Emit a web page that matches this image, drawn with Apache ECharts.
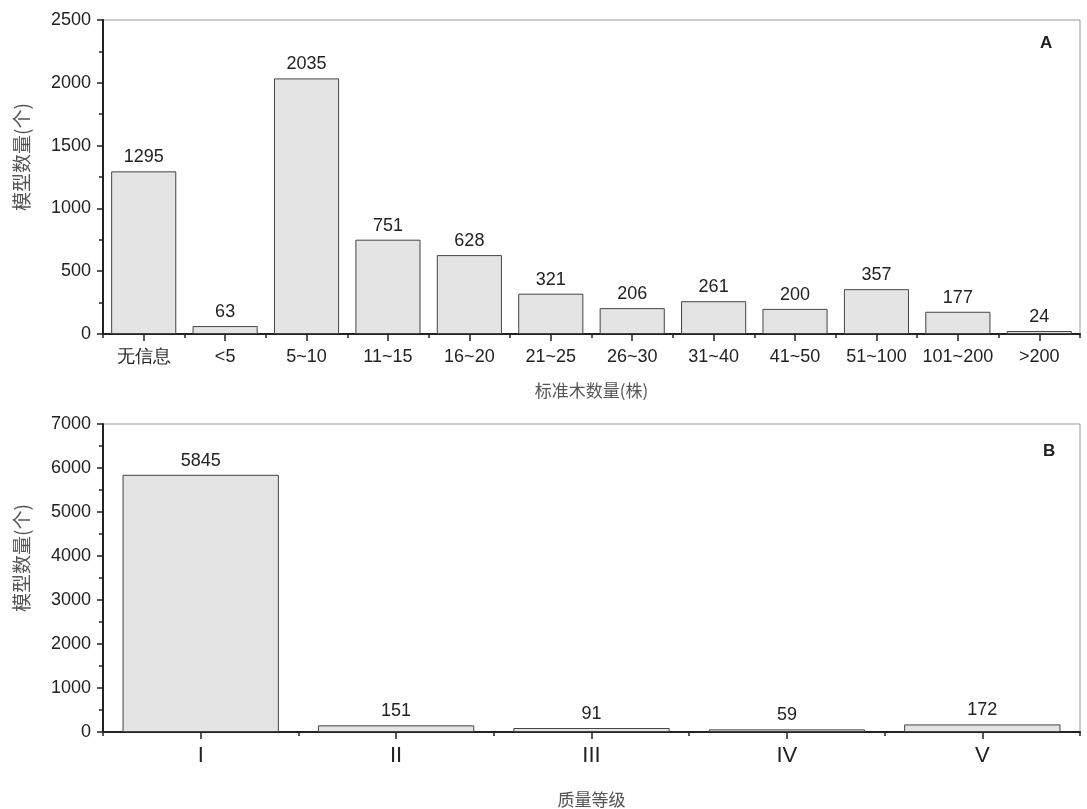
<!DOCTYPE html>
<html><head><meta charset="utf-8">
<script src="https://cdn.jsdelivr.net/npm/echarts@6/dist/echarts.min.js"></script>
<style>html,body{margin:0;padding:0;background:#fff}#c{width:1087px;height:809px}</style>
</head><body><div id="c"></div>
<script>
const catsA = ['无信息','<5','5~10','11~15','16~20','21~25','26~30','31~40','41~50','51~100','101~200','>200'];
const valsA = [1295,63,2035,751,628,321,206,261,200,357,177,24];
const catsB = ['I','II','III','IV','V'];
const valsB = [5845,151,91,59,172];
const yNameA = '模型数量(个)';
const xNameA = '标准木数量(株)';
const yNameB = '模型数量(个)';
const xNameB = '质量等级';

const numFont = 'Liberation Sans, Arial, sans-serif';
const cjkFont = 'Noto Sans CJK SC, sans-serif';
const axisDark = {lineStyle:{color:'#222',width:2}};

function xAxes(cats, grid, name, nameGap, labelStyle){
  return [
    {type:'category', gridIndex:grid, data:cats, position:'bottom',
     axisLine:axisDark,
     axisTick:{show:true, alignWithLabel:true, length:7, lineStyle:{color:'#222',width:1.5}},
     axisLabel:Object.assign({color:'#222', interval:0}, labelStyle),
     name:name, nameLocation:'middle', nameGap:nameGap,
     nameTextStyle:{color:'#555', fontSize:17, fontFamily:cjkFont}},
    {type:'category', gridIndex:grid, data:cats, position:'bottom',
     axisLine:{show:false},
     axisTick:{show:true, alignWithLabel:false, interval:0, length:4, lineStyle:{color:'#222',width:1.5}},
     axisLabel:{show:false}}
  ];
}
function yAxis(grid, max, interval, name){
  return {type:'value', gridIndex:grid, min:0, max:max, interval:interval,
    axisLine:{show:true, lineStyle:{color:'#222',width:2}},
    axisTick:{show:true, length:6, lineStyle:{color:'#222',width:1.5}},
    minorTick:{show:true, splitNumber:2, length:4, lineStyle:{color:'#222',width:1.5}},
    splitLine:{show:false},
    axisLabel:{color:'#222', fontSize:18, fontFamily:numFont, margin:12, formatter:function(v){return String(v);}},
    name:name, nameLocation:'middle', nameGap:72, nameRotate:90,
    nameTextStyle:{color:'#555', fontSize:19, fontFamily:cjkFont, padding:[0,0,0,40]}};
}
const barStyle = {color:'#e4e4e4', borderColor:'#444', borderWidth:1};
const lbl = {show:true, position:'top', distance:5, color:'#222', fontSize:18, fontFamily:numFont};

const option = {
  animation:false,
  grid:[
    {left:103, right:7, top:20, height:314, show:true, borderColor:'#999', borderWidth:1},
    {left:103, right:7, top:424, height:314, show:true, borderColor:'#999', borderWidth:1}
  ],
  xAxis:[
    ...xAxes(catsA,0,xNameA,48,{fontSize:18, fontFamily:numFont, margin:14}),
    ...xAxes(catsB,1,xNameB,59,{fontSize:22, fontFamily:'Liberation Sans Narrow, Liberation Sans, sans-serif', margin:13})
  ],
  yAxis:[yAxis(0,2500,500,yNameA), yAxis(1,7000,1000,yNameB)],
  series:[
    {type:'bar', xAxisIndex:0, yAxisIndex:0, data:valsA, barWidth:'80%', itemStyle:barStyle, label:lbl},
    {type:'bar', xAxisIndex:2, yAxisIndex:1, data:valsB, barWidth:'80%', itemStyle:barStyle, label:lbl}
  ],
  graphic:[
    {type:'text', left:1040, top:35, style:{text:'A', fill:'#222', font:'bold 17px Liberation Sans'}},
    {type:'text', left:1043, top:443, style:{text:'B', fill:'#222', font:'bold 17px Liberation Sans'}}
  ]
};
const chart = echarts.init(document.getElementById('c'));
chart.setOption(option);
</script></body></html>
